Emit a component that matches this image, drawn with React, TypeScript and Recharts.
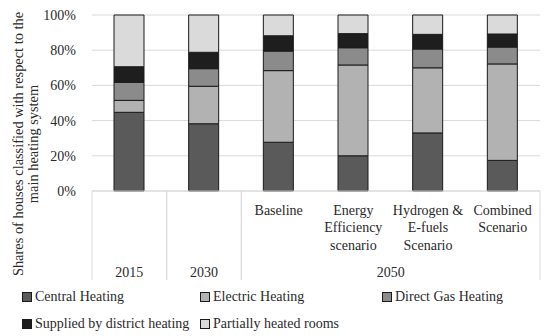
import { BarChart, Bar, XAxis, YAxis, CartesianGrid, Legend } from "recharts";

// ---------------------------------------------------------------------------
// Data
// ---------------------------------------------------------------------------

const scenarios: string[][] = [
	[],
	[],
	["Baseline"],
	["Energy", "Efficiency", "scenario"],
	["Hydrogen &", "E-fuels", "Scenario"],
	["Combined", "Scenario"],
];
const years = ["2015", "2030", "2050", "2050", "2050", "2050"];

const central = [44.7, 38.2, 27.7, 20.0, 33.0, 17.4];
const electric = [6.8, 21.3, 40.7, 51.6, 37.0, 54.8];
const directGas = [10.3, 10.0, 11.1, 9.8, 10.7, 9.6];
const district = [8.8, 9.3, 8.7, 8.0, 8.3, 7.4];
const partial = [29.4, 21.2, 11.8, 10.6, 11.0, 10.8];

const yTicks = [0, 20, 40, 60, 80, 100];

const SERIES = [
	{ key: "central", label: "Central Heating", color: "#5a5a5a" },
	{ key: "electric", label: "Electric Heating", color: "#b2b2b2" },
	{ key: "directGas", label: "Direct Gas Heating", color: "#8b8b8b" },
	{ key: "district", label: "Supplied by district heating", color: "#1e1e1e" },
	{ key: "partial", label: "Partially heated rooms", color: "#dadada" },
];

const rows = years.map((year, i) => ({
	id: `c${i}`,
	year,
	lines: scenarios[i],
	central: central[i],
	electric: electric[i],
	directGas: directGas[i],
	district: district[i],
	partial: partial[i],
}));

// ---------------------------------------------------------------------------
// Styling
// ---------------------------------------------------------------------------

const FONT = "'Liberation Serif', serif";
const TEXT = "#2a2a2a";
const GRID = "#d9d9d9";
const AXIS_H = 89;

// two-level category axis: scenario names on top, years below, group dividers
function CategoryTick(props: any) {
	const { x, y, index, width, visibleTicksCount } = props;
	const bw = width / visibleTicksCount;
	const row = rows[index];
	const prev = rows[index - 1];
	const next = rows[index + 1];
	const groupStart = !prev || prev.year !== row.year;
	const groupEnd = !next || next.year !== row.year;

	// centre of the year group
	let first = index;
	while (first > 0 && rows[first - 1].year === row.year) first--;
	let last = index;
	while (last < rows.length - 1 && rows[last + 1].year === row.year) last++;
	const groupCenter = x + ((first + last) / 2 - index) * bw;

	return (
		<g>
			{groupStart && <line x1={x - bw / 2} x2={x - bw / 2} y1={y} y2={y + AXIS_H} stroke={GRID} />}
			{groupEnd && <line x1={x + bw / 2} x2={x + bw / 2} y1={y} y2={y + AXIS_H} stroke={GRID} />}
			{row.lines.map((t, k) => (
				<text
					key={k}
					x={x}
					y={y + 19 + k * 17.5}
					textAnchor="middle"
					dominantBaseline="central"
					fontFamily={FONT}
					fontSize={14}
					fill={TEXT}
				>
					{t}
				</text>
			))}
			{index === first && (
				<text
					x={groupCenter}
					y={y + 81}
					textAnchor="middle"
					dominantBaseline="central"
					fontFamily={FONT}
					fontSize={14}
					fill={TEXT}
				>
					{row.year}
				</text>
			)}
		</g>
	);
}

function YLabel(props: any) {
	const { viewBox } = props;
	const cy = viewBox.y + 129;
	const l1 = 18;
	const l2 = 33;
	return (
		<g fontFamily={FONT} fontSize={14.4} fill={TEXT}>
			<text x={l1} y={cy} transform={`rotate(-90, ${l1}, ${cy})`} textAnchor="middle" dominantBaseline="central">
				Shares of houses classified with respect to the
			</text>
			<text x={l2} y={cy} transform={`rotate(-90, ${l2}, ${cy})`} textAnchor="middle" dominantBaseline="central">
				main heating system
			</text>
		</g>
	);
}

function LegendBox() {
	const cols = [22, 200, 382];
	const positions = [
		{ left: cols[0], top: 17 },
		{ left: cols[1], top: 17 },
		{ left: cols[2], top: 17 },
		{ left: cols[0], top: 44 },
		{ left: cols[1], top: 44 },
	];
	return (
		<div style={{ position: "relative", width: 550, height: 56, fontFamily: FONT, fontSize: 14, color: TEXT }}>
			{SERIES.map((s, i) => (
				<div
					key={s.key}
					style={{
						position: "absolute",
						left: positions[i].left,
						top: positions[i].top - 9,
						height: 18,
						display: "flex",
						alignItems: "center",
						whiteSpace: "nowrap",
					}}
				>
					<span
						style={{
							display: "inline-block",
							width: 8,
							height: 8,
							background: s.color,
							border: "1px solid #1a1a1a",
							marginRight: 3,
						}}
					/>
					{s.label}
				</div>
			))}
		</div>
	);
}

// ---------------------------------------------------------------------------
// Component
// ---------------------------------------------------------------------------

export default function App() {
	return (
		<div style={{ position: "absolute", left: 0, top: 0, width: 550, height: 336, background: "#fff" }}>
			<BarChart width={550} height={336} data={rows} margin={{ top: 15, right: 10, left: 0, bottom: 0 }}>
				<CartesianGrid vertical={false} stroke={GRID} />
				<XAxis
					dataKey="id"
					height={AXIS_H}
					interval={0}
					tickLine={false}
					tickSize={0}
					tickMargin={0}
					axisLine={{ stroke: GRID }}
					tick={<CategoryTick />}
				/>
				<YAxis
					width={92}
					domain={[0, 100]}
					ticks={yTicks}
					tickFormatter={(v: number) => `${v}%`}
					axisLine={false}
					tickLine={false}
					tickMargin={10}
					tick={{ fontFamily: FONT, fontSize: 14, fill: TEXT }}
					label={{ content: <YLabel /> }}
				/>
				<Legend verticalAlign="bottom" height={56} content={() => <LegendBox />} />
				{SERIES.map((s) => (
					<Bar
						key={s.key}
						dataKey={s.key}
						stackId="a"
						fill={s.color}
						stroke="#1a1a1a"
						strokeWidth={1}
						barSize={30}
						isAnimationActive={false}
					/>
				))}
			</BarChart>
		</div>
	);
}
